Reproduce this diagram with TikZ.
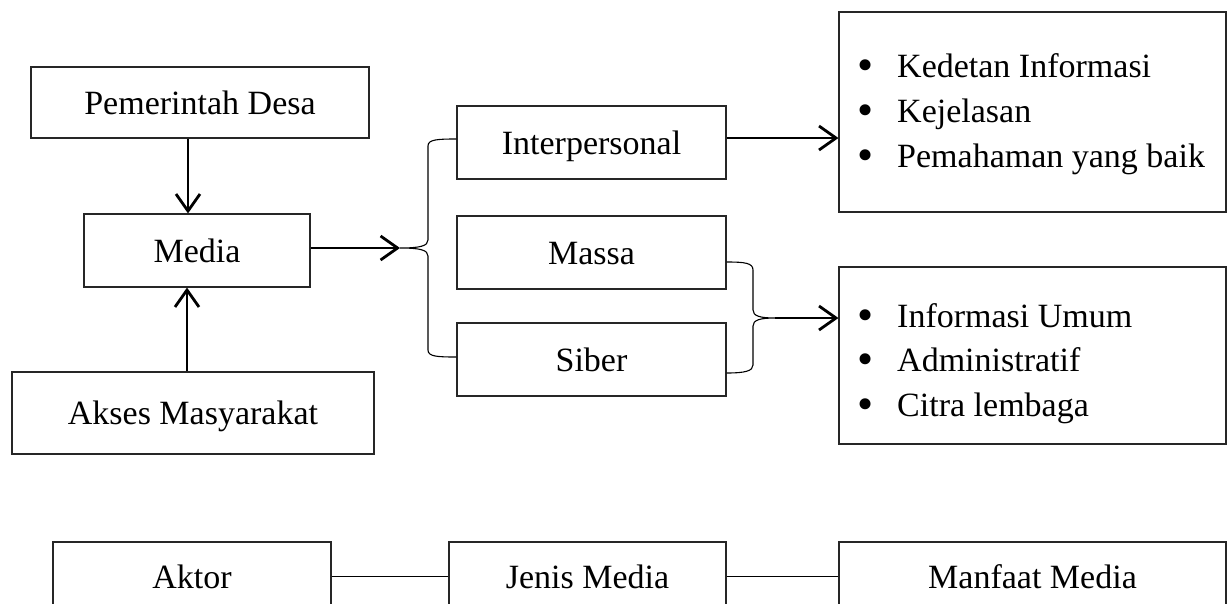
\documentclass[tikz,border=0pt]{standalone}
\usepackage{fontspec}
\setmainfont{Liberation Serif}
\usetikzlibrary{arrows.meta,calc}
\begin{document}
\begin{tikzpicture}[x=1pt,y=-1pt,
  box/.style={draw=black!85,line width=1.1pt,rectangle,inner sep=0pt,
    font=\fontsize{34}{40}\selectfont,text height=25pt,text depth=2pt},
  arr/.style={line width=2.8pt,-{Straight Barb[length=17pt,width=24pt]}},
  brace/.style={line width=1.1pt},
  link/.style={line width=1.4pt},
  itemtext/.style={anchor=base west,inner sep=0pt,font=\fontsize{34}{40}\selectfont},
  itembullet/.style={anchor=base,inner sep=0pt,font=\fontsize{46}{50}\selectfont}]
\clip (0,0) rectangle (1227,603);
\fill[white] (0,0) rectangle (1227,603);

% left column
\node[box,minimum width=338pt,minimum height=71pt] (pd) at (200,102.5) {Pemerintah Desa};
\node[box,minimum width=226pt,minimum height=73pt] (media) at (197,250.5) {Media};
\node[box,minimum width=362pt,minimum height=82pt] (akses) at (193,413) {Akses Masyarakat};

% media types
\node[box,minimum width=269pt,minimum height=73pt] (ip) at (591.5,142.5) {Interpersonal};
\node[box,minimum width=269pt,minimum height=73pt] (massa) at (591.5,252.5) {Massa};
\node[box,minimum width=269pt,minimum height=73pt] (siber) at (591.5,359.5) {Siber};

% benefit boxes
\node[box,minimum width=387pt,minimum height=200pt] (b1) at (1032.5,112) {};
\node[box,minimum width=387pt,minimum height=177pt] (b2) at (1032.5,355.5) {};

\node[itembullet] (d1) at (866,80.5) {•};
\node[itemtext] (t1) at (897,77) {Kedetan Informasi};
\node[itembullet] (d2) at (866,125.5) {•};
\node[itemtext] (t2) at (897,122) {Kejelasan};
\node[itembullet] (d3) at (866,170.5) {•};
\node[itemtext] (t3) at (897,167) {Pemahaman yang baik};

\node[itembullet] (d4) at (866,330.5) {•};
\node[itemtext] (t4) at (897,327) {Informasi Umum};
\node[itembullet] (d5) at (866,374.5) {•};
\node[itemtext] (t5) at (897,371) {Administratif};
\node[itembullet] (d6) at (866,419.5) {•};
\node[itemtext] (t6) at (897,416) {Citra lembaga};

% bottom legend
\node[box,minimum width=278pt,minimum height=69pt] (aktor) at (192,576.5) {Aktor};
\node[box,minimum width=277pt,minimum height=69pt] (jenis) at (587.5,576.5) {Jenis Media};
\node[box,minimum width=387pt,minimum height=69pt] (manfaat) at (1032.5,576.5) {Manfaat Media};

% arrows into media
\draw[arr] ([xshift=-9pt]media.north |- pd.south) -- ([xshift=-9pt]media.north);
\draw[arr] ([xshift=-10pt]media.south |- akses.north) -- ([xshift=-10pt]media.south);

% media to left brace
\coordinate (lt) at (400,248);
\draw[arr] (media.east |- lt) -- (lt);
\draw[brace] ([yshift=3.5pt]ip.west) .. controls (437,139) and (428,139.5) .. (428,146)
  -- (428,240) .. controls (428,246) and (420,248) .. (lt)
  .. controls (420,248) and (428,250) .. (428,256)
  -- (428,350) .. controls (428,356.5) and (437,357) .. ([yshift=2.5pt]siber.west);

% interpersonal to benefit box 1
\coordinate (ia) at ([yshift=4.5pt]ip.east);
\draw[arr] (ia) -- (b1.west |- ia);

% right brace
\coordinate (rt) at (775,318);
\draw[brace] ([yshift=-9.5pt]massa.east) .. controls (745,262) and (753,263) .. (753,270)
  -- (753,310) .. controls (753,316) and (760,318) .. (rt)
  .. controls (760,318) and (753,320) .. (753,326)
  -- (753,365) .. controls (753,371) and (745,373) .. ([yshift=-13.5pt]siber.east);
\draw[arr] (rt) -- (b2.west |- rt);

% legend links
\draw[link] (aktor.east) -- (jenis.west);
\draw[link] (jenis.east) -- (manfaat.west);
\end{tikzpicture}
\end{document}
